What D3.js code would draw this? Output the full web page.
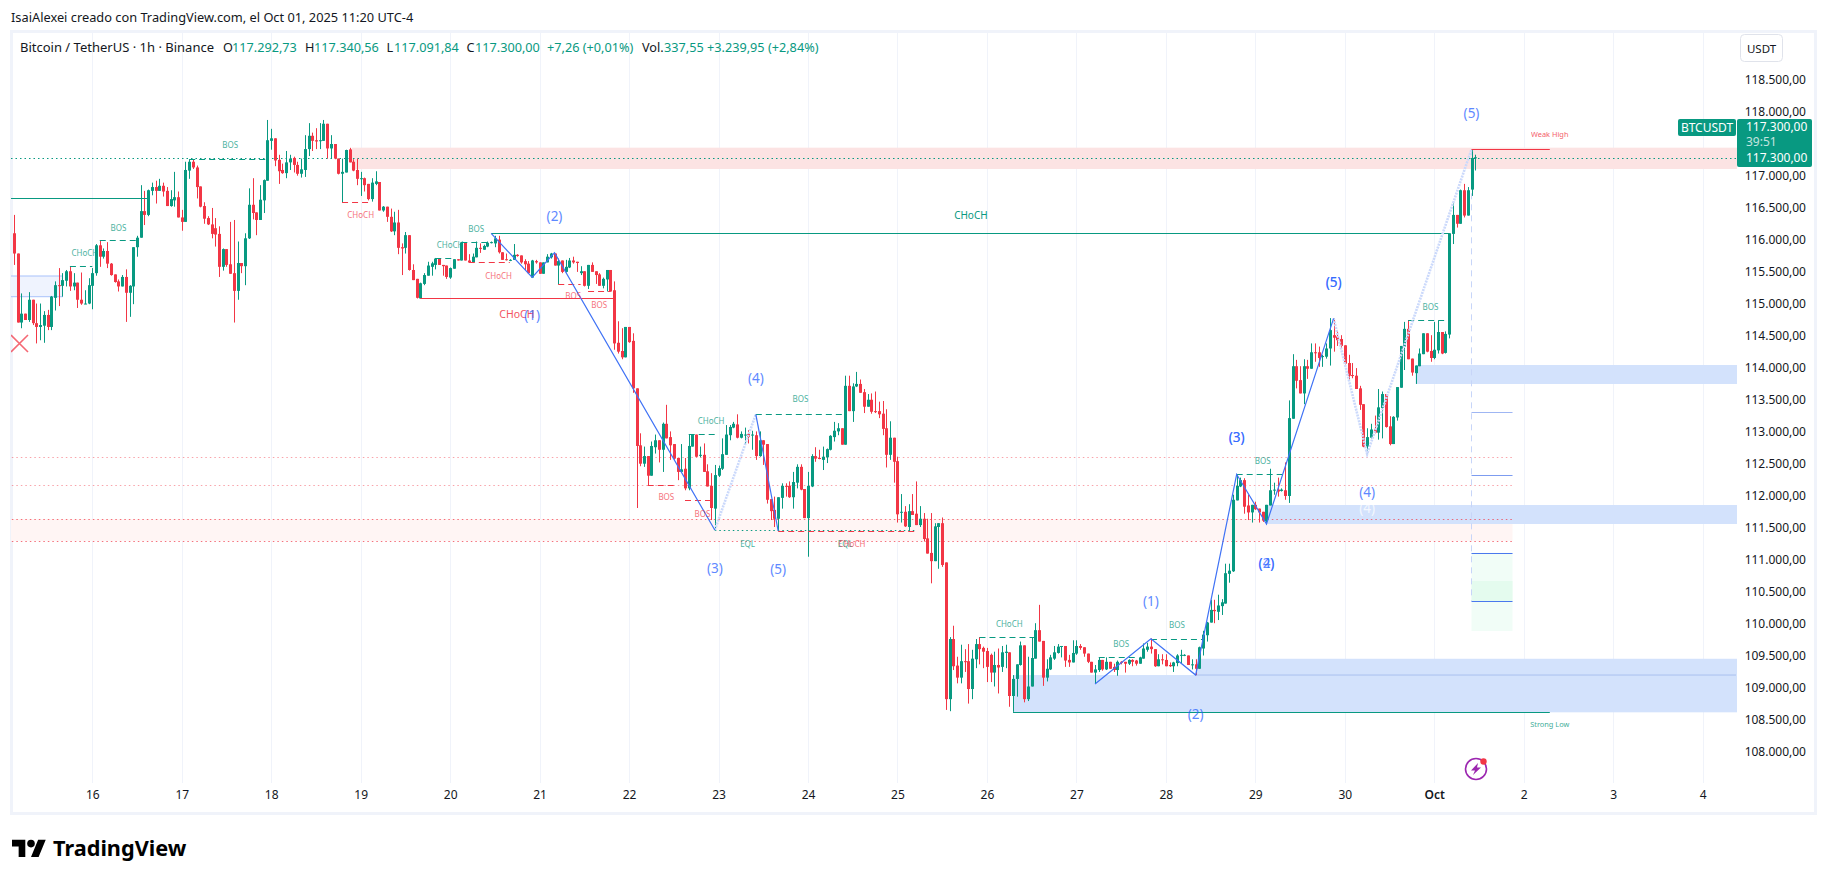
<!DOCTYPE html>
<html><head><meta charset="utf-8">
<script src="https://cdn.jsdelivr.net/npm/d3@7/dist/d3.min.js"></script>
<style>
html,body{margin:0;padding:0;background:#fff;overflow:hidden}
svg{display:block}
text{font-family:"Noto Sans","Open Sans",sans-serif}
</style></head><body><div id="c"></div>
<script>
// Hourly candles [open, high, low, close], one list per day. First candle is Sep 15 03:00.
const sep15=[[116100,116390,115600,115780],[115780,115780,114690,114690],[114690,115150,114600,114830],[114830,114830,114730,114730],[114730,115170,114700,115050],[115050,115050,114650,114680],[114680,114990,114360,114620],[114620,114990,114410,114650],[114640,114870,114370,114810],[114810,114890,114570,114620],[114620,115110,114570,115100],[115080,115340,114880,115280],[115280,115550,114950,115270],[115270,115470,115100,115360],[115350,115520,115260,115500],[115500,115580,115190,115260],[115260,115470,115200,115320],[115320,115320,114920,115050],[115050,115480,114970,114990],[114980,115200,114980,114990],[114990,115390,114980,115280]];
const sep16=[[115270,115550,114900,115470],[115470,115930,115430,115910],[115910,115990,115570,115730],[115730,115860,115700,115820],[115820,115960,115550,115620],[115620,115630,115430,115440],[115450,115450,115320,115330],[115340,115370,115180,115260],[115260,115440,115260,115410],[115410,115530,114700,115160],[115160,115280,114780,115270],[115260,115880,114980,115880],[115880,116060,115730,116030],[116030,116860,116030,116450],[116450,116770,116230,116390],[116390,116790,116370,116780],[116770,116900,116700,116830],[116830,116930,116570,116770],[116770,116960,116770,116850],[116850,116900,116680,116760],[116770,116830,116530,116530],[116530,116780,116520,116640],[116620,117070,116520,116670],[116670,116760,116350,116350]];
const sep17=[[116350,116470,116140,116280],[116280,117230,116280,117100],[117090,117270,116960,117230],[117230,117260,117115,117140],[117140,117170,116650,116830],[116840,116840,116510,116520],[116530,116590,116250,116330],[116340,116370,116230,116240],[116240,116500,116020,116090],[116180,116340,115890,116080],[116090,116210,115410,115570],[115570,115860,115510,115850],[115850,115850,115570,115600],[115610,116280,115460,115460],[115470,116310,114690,115190],[115190,115970,115050,115630],[115630,115630,115470,115580],[115580,116100,115280,116020],[116020,116810,116010,116550],[116550,116970,116320,116420],[116430,116430,116070,116310],[116310,116860,116310,116630],[116620,116950,116420,116940],[116930,117890,116930,117570]];
const sep18=[[117560,117750,117420,117600],[117600,117600,117160,117250],[117260,117340,116880,117080],[117100,117200,117040,117050],[117050,117400,116970,117220],[117220,117340,117100,117280],[117290,117310,117060,117180],[117180,117230,117010,117040],[117040,117280,116980,117110],[117100,117650,116990,117430],[117430,117840,117320,117640],[117640,117690,117400,117560],[117570,117760,117430,117550],[117560,117840,117430,117570],[117560,117890,117560,117830],[117830,117830,117280,117440],[117440,117650,117280,117510],[117510,117510,117270,117280],[117280,117280,117030,117040],[117040,117280,116590,117070],[117060,117420,117060,117415],[117425,117450,117220,117220],[117230,117270,117080,117090],[117100,117280,116860,116960]];
const sep19=[[116960,117070,116690,116970],[116970,116980,116760,116860],[116880,116880,116620,116640],[116640,116970,116600,116900],[116880,117080,116860,116920],[116910,116910,116460,116460],[116460,116530,116440,116520],[116520,116520,116280,116360],[116360,116490,116120,116130],[116130,116440,116070,116270],[116270,116470,115770,115870],[115880,115940,115440,115860],[115870,116120,115780,116070],[116070,116070,115510,115520],[115520,115610,115360,115360],[115380,115380,115070,115080],[115070,115320,115070,115310],[115300,115470,115280,115440],[115430,115650,115430,115590],[115570,115650,115430,115625],[115600,115710,115530,115700],[115700,115700,115600,115600],[115600,115600,115430,115580],[115590,115590,115380,115410]];
const sep20=[[115400,115560,115380,115550],[115540,115690,115540,115690],[115690,115690,115670,115670],[115670,115960,115670,115956],[115950,115950,115670,115670],[115670,115770,115630,115640],[115640,115780,115630,115730],[115720,115970,115720,115870],[115870,115940,115790,115860],[115840,115920,115840,115900],[115890,115970,115880,115950],[115950,115970,115940,115960],[115940,116060,115880,116020],[116000,116060,115780,115800],[115800,115800,115680,115680],[115690,115780,115670,115680],[115670,115690,115660,115680],[115680,115930,115680,115760],[115760,115770,115730,115740],[115750,115750,115620,115640],[115660,115690,115520,115610],[115620,115660,115460,115470],[115400,115680,115400,115670],[115660,115680,115620,115640]];
const sep21=[[115640,115640,115460,115460],[115460,115640,115460,115640],[115640,115770,115640,115730],[115720,115790,115700,115780],[115780,115780,115590,115590],[115590,115700,115290,115660],[115670,115670,115470,115490],[115490,115680,115480,115570],[115560,115710,115550,115670],[115670,115730,115620,115640],[115650,115650,115490,115630],[115470,115580,115440,115500],[115500,115500,115260,115270],[115270,115600,115220,115600],[115600,115640,115490,115490],[115500,115500,115300,115440],[115450,115470,115270,115270],[115270,115400,115230,115380],[115370,115520,115180,115520],[115520,115520,115180,115180],[115200,115340,114260,114360],[114370,114710,114200,114230],[114240,114600,114110,114140],[114140,114620,114140,114620]];
const sep22=[[114620,114620,114370,114380],[114400,114520,113580,113650],[113650,113650,111760,112740],[112750,112940,112420,112460],[112460,112730,112410,112580],[112580,112580,112120,112270],[112270,112810,112270,112740],[112720,112920,112620,112830],[112830,112830,112480,112680],[112680,113110,112330,113090],[113090,113390,112860,112860],[112880,112970,112520,112750],[112770,112770,112520,112540],[112550,112550,112200,112330],[112330,112770,112320,112370],[112380,112550,112040,112070],[112070,112920,112040,112740],[112730,112920,112730,112920],[112920,112920,112560,112570],[112590,112730,112560,112600],[112600,112780,112330,112330],[112340,112450,112100,112100],[112110,112310,111570,111760],[111750,112440,111410,112280]];
const sep23=[[112270,112430,112250,112390],[112380,112860,112360,112610],[112600,113070,112600,112920],[112910,113070,112830,113040],[113030,113120,113020,113090],[113080,113240,112860,112870],[112870,112970,112860,112930],[112910,113030,112770,112920],[112930,112990,112780,112880],[112910,112980,112680,112920],[112910,112970,112520,112580],[112580,112970,112570,112830],[112830,112830,112440,112760],[112770,112770,111830,111890],[111900,111900,111570,111710],[111730,111940,111460,111590],[111590,111930,111410,111930],[111920,112150,111750,112110],[112110,112150,111940,112100],[112110,112180,111920,111930],[111930,112330,111750,112170],[112160,112450,112070,112410],[112410,112450,112040,112050],[112060,112060,111600,111600]];
const sep24=[[111600,112330,110990,112110],[112100,112610,112090,112580],[112580,112720,112490,112540],[112550,112680,112530,112540],[112520,112730,112360,112570],[112560,112700,112470,112690],[112680,112910,112670,112900],[112880,113120,112810,112980],[112970,113100,112910,113020],[113020,113020,112760,112760],[112760,113850,112760,113690],[113690,113850,113290,113290],[113290,113730,113120,113680],[113680,113910,113670,113720],[113720,113790,113580,113580],[113590,113640,113260,113360],[113360,113560,113360,113470],[113470,113570,113250,113280],[113290,113600,113260,113280],[113290,113440,113180,113240],[113250,113450,112910,113010],[113020,113320,112400,112600],[112600,113130,112520,112870],[112870,112870,112160,112490]];
const sep25=[[112500,112570,111530,111660],[111690,111980,111530,111700],[111700,111790,111460,111470],[111460,111820,111400,111710],[111710,111980,111650,111650],[111670,112180,111490,111490],[111490,111790,111460,111590],[111590,111680,111230,111270],[111280,111590,111040,111040],[111050,111680,110570,110920],[110920,111520,110920,111470],[111460,111520,110800,111520],[111520,111610,110830,110860],[110900,110900,108570,108740],[108740,109720,108550,109690],[109690,109900,109200,109260],[109270,109410,108990,109080],[109080,109600,108990,109340],[109340,109530,109170,109330],[109340,109610,108670,108900],[108900,109520,108740,109380],[109370,109690,109230,109610],[109610,109720,109290,109530],[109550,109570,109230,109490]];
const sep26=[[109500,109550,109010,109250],[109440,109460,109010,109160],[109160,109490,108940,109280],[109280,109540,108830,109240],[109250,109580,109170,109480],[109470,109600,109230,109490],[109480,109480,108620,108790],[108790,109120,108540,109060],[109060,109290,108780,109290],[109280,109650,109270,109590],[109590,109590,108690,108740],[108740,109410,108710,108940],[108940,109720,108940,109390],[109380,109940,109380,109830],[109830,110230,109650,109650],[109660,109660,108950,109080],[109080,109370,109020,109220],[109210,109440,109200,109400],[109380,109580,109360,109480],[109470,109610,109460,109570],[109570,109580,109400,109580],[109580,109580,109250,109350],[109360,109440,109250,109320],[109320,109670,109320,109470]];
const sep27=[[109460,109670,109440,109580],[109580,109610,109520,109550],[109560,109560,109410,109460],[109460,109460,109310,109330],[109330,109330,109160,109160],[109160,109280,108990,109210],[109200,109400,109170,109360],[109360,109360,109190,109210],[109210,109400,109200,109330],[109330,109330,109220,109220],[109250,109300,109170,109200],[109200,109350,109110,109330],[109330,109340,109290,109320],[109330,109330,109160,109300],[109300,109370,109280,109360],[109360,109370,109260,109330],[109350,109360,109270,109300],[109300,109410,109300,109400],[109380,109620,109380,109540],[109520,109630,109490,109570],[109570,109700,109460,109530],[109530,109530,109250,109260],[109260,109450,109260,109370],[109370,109450,109290,109360]];
const sep28=[[109360,109450,109260,109260],[109280,109320,109250,109260],[109260,109330,109170,109320],[109310,109450,109260,109430],[109430,109520,109300,109440],[109430,109450,109420,109440],[109430,109430,109280,109280],[109280,109370,109210,109290],[109290,109370,109120,109220],[109220,109570,109220,109560],[109540,109820,109430,109760],[109750,109960,109650,109950],[109950,110310,109950,110150],[110150,110310,109940,110130],[110120,110390,109990,110220],[110210,110320,110070,110270],[110250,110880,110250,110730],[110720,110880,110580,110770],[110760,111970,110750,111890],[111880,112280,111880,112110],[112100,112240,112090,112200],[112200,112230,111670,111780],[111800,111970,111570,111690],[111690,111810,111530,111810]];
const sep29=[[111810,111860,111730,111740],[111750,111750,111530,111690],[111700,111700,111540,111560],[111550,111810,111500,111810],[111800,112380,111800,112040],[112040,112160,111970,112050],[112050,112240,111940,112020],[112030,112070,112020,112050],[112040,112480,111890,111950],[111950,113460,111840,113180],[113170,114190,113170,114000],[114000,114100,113650,113770],[113780,114000,113570,113570],[113570,114110,113400,114000],[114000,114100,113800,113960],[113960,114360,113960,114220],[114220,114360,114070,114210],[114220,114310,113990,114130],[114150,114180,113990,114160],[114150,114360,114120,114280],[114280,114760,114010,114570],[114490,114760,114230,114450],[114470,114550,114320,114410],[114430,114490,114270,114320]];
const sep30=[[114330,114330,114030,114040],[114050,114180,113790,113850],[113860,114050,113810,113850],[113850,113970,113640,113640],[113650,113690,113310,113390],[113400,113400,112720,112730],[112730,113020,112610,112880],[112870,113090,112860,113000],[113010,113220,112940,112950],[112950,113640,112840,113350],[113340,113600,112860,113560],[113560,113560,113030,113040],[113050,113210,112750,112770],[112770,113210,112770,113200],[113190,113670,113140,113670],[113660,114320,113660,114320],[114310,114700,113940,114590],[114590,114730,114110,114110],[114120,114120,113850,113900],[113890,114010,113720,114010],[114000,114280,114000,114200],[114190,114520,114190,114520],[114520,114520,114220,114230],[114240,114490,114070,114130]];
const oct01=[[114130,114700,114110,114260],[114250,114720,114200,114540],[114540,114540,114190,114200],[114210,114550,114200,114510],[114500,116100,114440,116100],[116090,116570,115930,116390],[116390,116390,116190,116250],[116250,116790,116250,116780],[116780,116880,116350,116380],[116380,116830,116380,116780],[116790,117430,116690,117290],[117293,117341,117092,117300]];

const firstHour=-21; // hours relative to Sep 16 00:00
const dayTicks=[[0,"16"],[24,"17"],[48,"18"],[72,"19"],[96,"20"],[120,"21"],[144,"22"],[168,"23"],[192,"24"],[216,"25"],[240,"26"],[264,"27"],[288,"28"],[312,"29"],[336,"30"],[360,"Oct"],[384,"2"],[408,"3"],[432,"4"]];
const priceTicks=[108000,108500,109000,109500,110000,110500,111000,111500,112000,112500,113000,113500,114000,114500,115000,115500,116000,116500,117000,118000,118500];
const lastPrice=117300;

// Levels: [fromHour, toHour, price]
const greenDashed=[[-6,0,115583],[2,12,115988],[26,47,117273],[92,97,115704],[99,107,115956],[160,168,112924],[178,202,113240],[238,253,109716],[270,280,109400],[284,298,109695],[307,320,112292],[353,364,114725]];
const redDashed=[[67,75,116588],[101,112,115640],[125,131,115298],[133,139,115183],[149,157,112118],[159,166,111881],[184,221,111390]];
const greenDotted=[[167,221,111408]];
const greenSolid=[[-24,14.7,116652],[107,364,116099],[247,391,108532]];
const redSolid=[[88,140,115072],[370,391,117427]];
const projBlue=[[370,381,113276],[370,381,112281],[370,381,111054],[370,381,110291]];
const redDottedLevels=[[-24,381,112560],[-24,381,112120],[-24,381,111586],[-24,381,111240]];
// Zones: [fromHour, toHour, priceTop, priceBottom]
const redZones=[[69.6,449,117452,117115]];
const paleRedZones=[[-24,381,111586,111240]];
const blueZones=[[355,449,114019,113719],[315,449,111807,111507],[247,449,109121,108532],[296,449,109378,109121]];
const paleBlueZones=[[-24,-8,115425,115098]];
const paleGreenZones=[[370,381,111054,109817]];
const greenZones=[[370,381,110607,110291]];
// Wave lines: [hour, price]
const waveA=[[107,116099],[118,115404],[124,115793],[167,111412]];
const waveADotted=[[167,111412],[178,113240]];
const waveB=[[178,113240],[184,111397]];
const waveC=[[269,108979],[284,109695],[296,109121],[307,112292],[315,111507],[333,114756]];
const waveCDotted=[[333,114756],[342,112613],[370,117426]];
const projection=[[370,117426],[370,110291]];
// Labels: [text, hour, price]
const greenTags=[["CHoCH",-2,115798],["BOS",7,116199],["BOS",37,117510],["BOS",103,116177],["CHoCH",96,115930],["CHoCH",166,113150],["BOS",190,113482],["EQL",175.8,111202],["EQL",202,111202],["CHoCH",246,109937],["BOS",276,109622],["BOS",291,109927],["BOS",314,112518],["BOS",359,114951]];
const redTags=[["CHoCH",72,116404],["CHoCH",109,115440],["BOS",129,115114],["BOS",136,114982],["BOS",154,111934],["BOS",163.7,111676],["CHoCH",203.8,111202]];
const waveLabels=[["(1)",118,114810],["(2)",124,116373],["(3)",167,110807],["(4)",178,113808],["(5)",184,110791],["(1)",284,110290],["(2)",296,108505],["(3)",307,112887],["(3)",307,112887],["(2)",315,110892],["(4)",315,110892],["(5)",333,115336],["(5)",333,115336],["(4)",342,112020],["(5)",370,118005]];
const trendLabels=[["CHoCH",235.7,116389]];
const bigRedLabels=[["CHoCH",113.9,114825]];
const statusTexts=[["Weak High",391,117670],["Strong Low",391,108350]];

const W=1826,H=880,GREEN="#089981",RED="#f23645",BLUE="#2962ff";
const svg=d3.select("#c").append("svg").attr("width",W).attr("height",H);
const x=d3.scaleLinear().domain([0,384]).range([92.3,1523.7]);
const y=d3.scaleLinear().domain([118000,108000]).range([113,753]);
// Readings were taken against a slightly tighter pixel grid than the axis.
const P=v=>118000-(118000-v)*0.98906;
const yp=v=>y(P(v));
const L=11,R=1736,T=32,B=783;

const defs=svg.append("defs");
defs.append("clipPath").attr("id","pane").append("rect").attr("x",L).attr("y",T).attr("width",R-L+1).attr("height",B-T);

// frame
svg.append("rect").attr("x",11.5).attr("y",31.5).attr("width",1804).attr("height",782).attr("fill","#fff").attr("stroke","#f0f3fa").attr("stroke-width",3);

const pane=svg.append("g").attr("clip-path","url(#pane)");
// grid
pane.append("g").selectAll("line").data(dayTicks).join("line")
 .attr("x1",d=>Math.round(x(d[0]))+.5).attr("x2",d=>Math.round(x(d[0]))+.5).attr("y1",T).attr("y2",B)
 .attr("stroke","#f0f3fa").attr("stroke-width",1);

function zones(data,fill,stroke){
 const g=pane.append("g");
 g.selectAll("rect").data(data).join("rect")
  .attr("x",d=>x(d[0])).attr("width",d=>x(d[1])-x(d[0]))
  .attr("y",d=>yp(d[2])).attr("height",d=>yp(d[3])-yp(d[2]))
  .attr("fill",fill).attr("stroke",stroke||"none");
}
zones(paleBlueZones,"#eff3fe","#a8c1fb");
zones(redZones,"#fce3e3");
zones(paleRedZones,"#fff5f4");
zones(blueZones,"#d3e2fc");
zones(paleGreenZones,"#f1fdf7");
zones(greenZones,"#e4fbee");
// mid line in the large blue zone
pane.append("line").attr("x1",x(296)).attr("x2",R).attr("y1",yp(109121)).attr("y2",yp(109121)).attr("stroke","#a9c0ef");

function levels(data,color,dash,width,op){
 pane.append("g").selectAll("line").data(data).join("line")
  .attr("x1",d=>x(d[0])).attr("x2",d=>x(d[1])).attr("y1",d=>Math.round(yp(d[2]))+.5).attr("y2",d=>Math.round(yp(d[2]))+.5)
  .attr("stroke",color).attr("stroke-width",width||1).attr("stroke-dasharray",dash||null).attr("opacity",op||1);
}
levels(redDottedLevels.slice(0,2),RED,"1.5,3",1,.45);
levels(redDottedLevels.slice(2),RED,"1.5,3",1,.7);
levels(projBlue.slice(0,1),"#9fb6f3");
levels(projBlue.slice(1,2),"#7d9cf0");
levels(projBlue.slice(2),"#4a78ee");
// price line
pane.append("line").attr("x1",L).attr("x2",R).attr("y1",Math.round(y(lastPrice))+.5).attr("y2",Math.round(y(lastPrice))+.5)
 .attr("stroke",GREEN).attr("stroke-dasharray","1.5,3");
// projection
const line=d3.line().x(d=>x(d[0])).y(d=>yp(d[1]));
pane.append("path").attr("d",line(projection)).attr("fill","none").attr("stroke","#c7d5f8").attr("stroke-dasharray","6,5");

// candles
const candles=[].concat(sep15,sep16,sep17,sep18,sep19,sep20,sep21,sep22,sep23,sep24,sep25,sep26,sep27,sep28,sep29,sep30,oct01)
 .map((c,i)=>({h:firstHour+i,o:P(c[0]),hi:P(c[1]),lo:P(c[2]),c:P(c[3])}));
const cg=pane.append("g");
cg.selectAll("rect.w").data(candles).join("rect").attr("class","w")
 .attr("x",d=>Math.round(x(d.h))).attr("width",1)
 .attr("y",d=>y(d.hi)).attr("height",d=>Math.max(1,y(d.lo)-y(d.hi)))
 .attr("fill",d=>d.c>=d.o?GREEN:RED);
cg.selectAll("rect.b").data(candles).join("rect").attr("class","b")
 .attr("x",d=>Math.round(x(d.h))-1).attr("width",3)
 .attr("y",d=>y(Math.max(d.o,d.c))).attr("height",d=>Math.max(1,Math.abs(y(d.o)-y(d.c))))
 .attr("fill",d=>d.c>=d.o?GREEN:RED);

levels(greenDashed,GREEN,"6,4",1);
levels(redDashed,RED,"6,4",1);
levels(greenDotted,GREEN,"1.5,3",1);
levels(greenSolid,GREEN,null,1.2);
levels(redSolid,RED,null,1.2);

function wave(data,dotted){
 pane.append("path").attr("d",line(data)).attr("fill","none")
  .attr("stroke",dotted?"#cbd9fb":"#3f72f5").attr("stroke-width",dotted?2.6:1.2)
  .attr("stroke-dasharray",dotted?"2,1":null);
}
wave(waveADotted,true);wave(waveCDotted,true);
wave(waveA);wave(waveB);wave(waveC);

function labels(data,color,size,op){
 pane.append("g").selectAll("text").data(data).join("text")
  .attr("x",d=>x(d[1])).attr("y",d=>yp(d[2])).attr("text-anchor","middle").attr("dominant-baseline","central")
  .attr("font-size",size).attr("fill",color).attr("opacity",op||1).text(d=>d[0]);
}
labels(greenTags,GREEN,8,.75);
labels(redTags,RED,8,.7);
labels(trendLabels,GREEN,10,1);
labels(bigRedLabels,RED,10.5,.85);
labels(waveLabels,BLUE,13.5,.75);
labels([["(4)",342,111755]],"#ffffff",13.5,.75);
labels(statusTexts.slice(0,1),RED,7.4,.8);
labels(statusTexts.slice(1),GREEN,7.4,.8);

// cross mark
pane.append("path").attr("d","M11 335L28 352M28 335L11 352").attr("stroke",RED).attr("stroke-width",1.6).attr("opacity",.75).attr("fill","none");

// axes
const fmt=v=>d3.format(",.2f")(v).replace(/,/g,"§").replace(".",",").replace(/§/g,".");
const ay=d3.axisRight(y).tickValues(priceTicks).tickSize(0).tickPadding(0).tickFormat(fmt);
const gy=svg.append("g").attr("transform","translate(1806,-1.5)").call(ay);
gy.select(".domain").remove();
gy.selectAll("text").attr("x",0).attr("text-anchor","end").attr("font-size",12).attr("font-family",'"Noto Sans"').attr("fill","#131722");
const ax=d3.axisBottom(x).tickValues(dayTicks.map(d=>d[0])).tickSize(0).tickPadding(0).tickFormat(d=>dayTicks.find(t=>t[0]===d)[1]);
const gx=svg.append("g").attr("transform","translate(0,790)").call(ax);
gx.select(".domain").remove();
gx.selectAll("text").attr("font-size",12).attr("font-family",'"Noto Sans"').attr("fill","#131722").attr("font-weight",d=>d===360?600:400);

// price tag
const tag=svg.append("g");
tag.append("rect").attr("x",1678).attr("y",119).attr("width",58).attr("height",17).attr("rx",2).attr("fill",GREEN);
tag.append("text").attr("x",1707).attr("y",127.5).attr("text-anchor","middle").attr("dominant-baseline","central").attr("fill","#fff").attr("font-size",12).text("BTCUSDT");
tag.append("rect").attr("x",1737).attr("y",119).attr("width",75).attr("height",48).attr("rx",2).attr("fill",GREEN);
[["117.300,00",126.5,1],["39:51",141,.75],["117.300,00",157.5,1]].forEach(t=>{
 tag.append("text").attr("x",1746).attr("y",t[1]).attr("dominant-baseline","central").attr("fill","#fff").attr("opacity",t[2]).attr("font-size",12).text(t[0]);
});

// USDT button
svg.append("rect").attr("x",1740.5).attr("y",34.5).attr("width",42).attr("height",27).attr("rx",4).attr("fill","#fff").attr("stroke","#e0e3eb");
svg.append("text").attr("x",1761.5).attr("y",48).attr("text-anchor","middle").attr("dominant-baseline","central").attr("font-size",11.5).attr("fill","#131722").text("USDT");

// header
svg.append("text").attr("x",11).attr("y",16.5).attr("dominant-baseline","central").attr("font-size",12.8).attr("fill","#131722").text("IsaiAlexei creado con TradingView.com, el Oct 01, 2025 11:20 UTC-4");
const legend=[["Bitcoin / TetherUS · 1h · Binance",20,"#131722",13],["O",223,"#131722"],["117.292,73",232,GREEN],["H",305,"#131722"],["117.340,56",314,GREEN],["L",386.5,"#131722"],["117.091,84",394,GREEN],["C",466.5,"#131722"],["117.300,00",475,GREEN],["+7,26 (+0,01%)",547,GREEN],["Vol.",642,"#131722"],["337,55",664,GREEN],["+3.239,95 (+2,84%)",707,GREEN]];
svg.append("g").selectAll("text").data(legend).join("text").attr("x",d=>d[1]).attr("y",46.5).attr("dominant-baseline","central").attr("font-size",d=>d[3]||12.7).attr("fill",d=>d[2]).text(d=>d[0]);

// lightning icon
const ic=svg.append("g").attr("transform","translate(1476,769)");
ic.append("circle").attr("r",10.5).attr("fill","none").attr("stroke","#9c27b0").attr("stroke-width",1.6);
ic.append("path").attr("d","M2 -6L-5 1.5H-1L-3 6L5 -1.5H1Z").attr("fill","#9c27b0");
ic.append("circle").attr("cx",7.5).attr("cy",-7.5).attr("r",3.2).attr("fill",RED);

// logo
const lg=svg.append("g").attr("transform","translate(12,836) scale(.95)");
lg.append("path").attr("d","M14 22H7V11H0V4h14v18zM28 22h-8l7.5-18h8L28 22z").attr("fill","#000");
lg.append("circle").attr("cx",20).attr("cy",8).attr("r",4).attr("fill","#000");
svg.append("text").attr("x",53).attr("y",847).attr("dominant-baseline","central").attr("font-size",21.7).attr("font-weight",700).attr("font-family","Inter").attr("fill","#000").text("TradingView");
</script></body></html>
